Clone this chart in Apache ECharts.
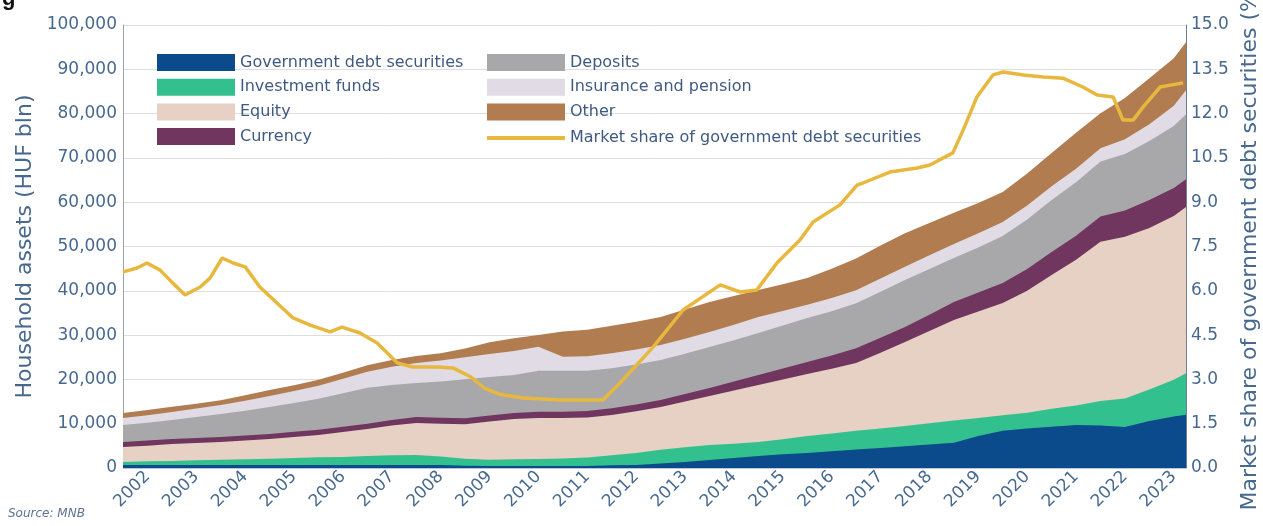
<!DOCTYPE html>
<html>
<head>
<meta charset="utf-8">
<script src="https://cdn.jsdelivr.net/npm/echarts@6/dist/echarts.min.js"></script>
<style>
html,body{margin:0;padding:0;background:#fff;}
#chart{width:1263px;height:526px;}
</style>
</head>
<body>
<div id="chart"></div>
<script>
// Sample positions (decimal years) for the household assets layers
const years = [2002,2002.5,2003,2003.5,2004,2004.5,2005,2005.5,2006,2006.5,2007,2007.5,2008,2008.5,2009,2009.5,2010,2010.5,2011,2011.5,2012,2012.5,2013,2013.5,2014,2014.5,2015,2015.5,2016,2016.5,2017,2017.5,2018,2018.5,2019,2019.5,2020,2020.5,2021,2021.5,2022,2022.5,2023,2023.5,2023.75];
// HUF bln, one array per asset type (bottom to top)
const govDebt = [680,680,680,700,700,700,700,700,700,700,680,680,680,650,500,450,450,450,450,450,600,700,1000,1350,1800,2260,2700,3100,3400,3800,4150,4500,4900,5300,5700,7200,8400,8900,9300,9700,9600,9250,10600,11600,12000];
const invFunds = [670,820,920,1050,1150,1300,1400,1550,1700,1800,2020,2170,2250,1950,1600,1400,1500,1600,1700,1900,2300,2700,3100,3350,3400,3240,3150,3400,3800,4000,4250,4400,4600,4800,5000,4100,3500,3600,4100,4400,5500,6450,7100,8300,9400];
const equity = [3390,3550,3820,3900,4020,4200,4450,4750,5050,5600,6100,6750,7230,7400,7800,8650,9110,9250,9140,9050,9060,9400,9670,10300,11050,12000,12880,13500,14020,14600,15300,17100,18940,20800,22700,24000,25340,27500,30160,32900,36000,36500,36500,37000,37500];
const currency = [1130,1130,1130,1150,1150,1150,1150,1180,1180,1200,1200,1250,1350,1350,1350,1350,1350,1400,1400,1450,1500,1550,1600,1700,1800,2000,2250,2450,2700,3000,3350,3400,3400,3700,4050,4300,4500,4900,5200,5400,5650,5900,6300,6300,6300];
const deposits = [3840,4050,4290,4700,5190,5600,6090,6500,7000,7600,8130,7900,7670,8200,8800,8700,8580,9250,9250,9100,9030,9000,9030,9100,9250,9350,9480,9700,9930,10000,10160,10400,10610,10300,9930,10200,10610,11200,11740,12100,12410,12800,13320,14000,14670];
const insurance = [1580,1700,1810,1920,2030,2250,2480,2700,2930,3250,3610,4100,4510,4700,4970,5200,5420,5420,3160,3300,3390,3390,3390,3390,3390,3500,3610,3300,3000,2950,2900,2950,3000,3100,3200,3200,3200,3150,3100,3050,3000,3300,3800,4600,5400];
const other = [1110,1170,1150,1080,1060,1200,1330,1320,1340,1350,1460,1550,1610,1650,1980,2650,2890,2630,5700,5950,6220,6260,6310,6610,6810,6450,6130,6050,6050,6650,7190,7450,7550,7300,7020,6800,6750,7250,7500,8150,7940,9300,10380,10700,10830];
// Market share of government debt securities (%)
const shareYears = [2002.00,2002.29,2002.49,2002.76,2003.02,2003.27,2003.58,2003.78,2004.03,2004.25,2004.50,2004.80,2005.15,2005.48,2005.83,2006.24,2006.48,2006.85,2007.20,2007.61,2007.93,2008.43,2008.75,2009.10,2009.40,2009.70,2010.19,2010.94,2011.82,2012.17,2012.85,2013.46,2014.22,2014.63,2014.97,2015.38,2015.85,2016.12,2016.67,2017.02,2017.14,2017.69,2018.25,2018.51,2018.98,2019.19,2019.47,2019.80,2020.01,2020.42,2020.83,2021.23,2021.64,2021.93,2022.26,2022.46,2022.67,2022.87,2023.22,2023.69];
const shareValues = [6.64,6.77,6.94,6.70,6.26,5.86,6.13,6.43,7.11,6.94,6.81,6.13,5.59,5.08,4.84,4.61,4.77,4.57,4.23,3.56,3.42,3.42,3.39,3.10,2.70,2.50,2.37,2.30,2.30,2.88,4.10,5.35,6.20,5.96,6.03,6.94,7.72,8.33,8.91,9.58,9.65,10.02,10.16,10.26,10.67,11.44,12.56,13.31,13.41,13.31,13.24,13.20,12.90,12.63,12.56,11.78,11.78,12.22,12.90,13.04];

const names = ['Government debt securities','Investment funds','Equity','Currency','Deposits','Insurance and pension','Other'];
const colors = ['#0b4a8b','#33c08f','#e6d1c4','#70365f','#a8a8aa','#e0dbe5','#b27c51'];
const layers = [govDebt,invFunds,equity,currency,deposits,insurance,other];
const lineName = 'Market share of government debt securities';
const lineColor = '#e8b83e';
const txt = '#48698f';
const font = 'DejaVu Sans';

// running totals (layer tops), drawn from the top layer down so each lower layer covers the one above
const tops = [];
layers.forEach((arr, k) => {
  tops.push(arr.map((v, i) => v + (k ? tops[k - 1][i] : 0)));
});
const series = [];
for (let k = layers.length - 1; k >= 0; k--) {
  series.push({
    name: names[k], type: 'line', symbol: 'none',
    lineStyle: {width: 0}, itemStyle: {color: colors[k]},
    areaStyle: {color: colors[k], opacity: 1, origin: 'start'},
    data: years.map((t, i) => [t, tops[k][i]])
  });
}
series.push({
  name: lineName, type: 'line', yAxisIndex: 1, symbol: 'none',
  lineStyle: {width: 3.5, color: lineColor}, itemStyle: {color: lineColor},
  data: shareYears.map((t, i) => [t, shareValues[i]]), z: 5
});

const legendText = {color: '#3f5a82', fontFamily: font, fontSize: 16};
const legendBase = {orient: 'vertical', itemWidth: 78, itemHeight: 17, itemGap: 7.7, selectedMode: false, textStyle: legendText};
const chart = echarts.init(document.getElementById('chart'));
chart.setOption({
  animation: false,
  textStyle: {fontFamily: font},
  grid: {left: 123, right: 77, top: 25, bottom: 58, containLabel: false, outerBoundsMode: 'none'},
  legend: [
    Object.assign({left: 152, top: 49, data: names.slice(0, 4).map(n => ({name: n, icon: 'rect'}))}, legendBase),
    Object.assign({left: 482, top: 49, data: names.slice(4).map(n => ({name: n, icon: 'rect'}))}, legendBase),
    Object.assign({}, legendBase, {left: 482, top: 125, itemHeight: 4, data: [{name: lineName, icon: 'rect'}]})
  ],
  xAxis: {
    type: 'value', min: 2002, max: 2023.75, interval: 0.25,
    axisLine: {show: true, lineStyle: {color: '#b8c6d8', width: 1}},
    axisTick: {show: false}, splitLine: {show: false},
    axisLabel: {
      rotate: 45, margin: 6, color: txt, fontSize: 17, fontFamily: font,
      formatter: v => (Math.abs(v - Math.floor(v) - 0.5) < 1e-6 ? String(Math.floor(v)) : '')
    }
  },
  yAxis: [
    {type: 'value', min: 0, max: 100000, interval: 10000,
     name: 'Household assets (HUF bln)', nameLocation: 'middle', nameGap: 76,
     nameTextStyle: {color: txt, fontSize: 22, fontFamily: font},
     axisLine: {show: true, lineStyle: {color: '#9aa3ad'}},
     axisTick: {show: false},
     splitLine: {lineStyle: {color: '#dedede'}},
     axisLabel: {color: txt, fontSize: 17, fontFamily: font, margin: 6,
       formatter: v => v.toLocaleString('en-US')}},
    {type: 'value', min: 0, max: 15, interval: 1.5,
     name: 'Market share of government debt securities (%)', nameLocation: 'middle', nameGap: 53,
     nameTextStyle: {color: txt, fontSize: 22, fontFamily: font},
     axisLine: {show: true, lineStyle: {color: '#6f7f92'}},
     axisTick: {show: false}, splitLine: {show: false},
     axisLabel: {color: txt, fontSize: 17, fontFamily: font, margin: 5,
       formatter: v => v.toFixed(1)}}
  ],
  graphic: [
    {type: 'text', left: 8, top: 508, style: {text: 'Source: MNB', fill: '#5f7290', font: 'italic 12px "DejaVu Sans"'}},
    {type: 'text', left: 2, top: -12, style: {text: 'g', fill: '#111', font: 'bold 22px "Liberation Sans"'}}
  ],
  series: series
});
</script>
</body>
</html>
